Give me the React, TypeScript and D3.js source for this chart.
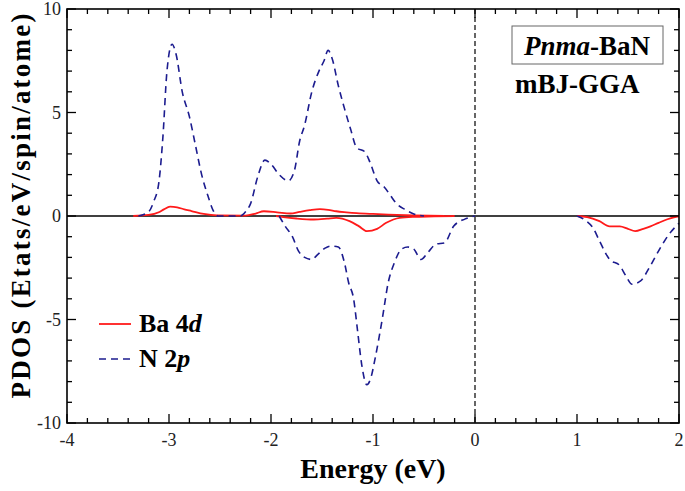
import React from 'react';
import * as d3 from 'd3';

// PDOS values (energy in eV, states/eV/spin/atom)
const n2pUpE = [-3.3, -3.2, -3.15, -3.1, -3.06, -3.02, -2.97, -2.93, -2.87, -2.8, -2.74, -2.68, -2.62, -2.57, -2.52, -2.3, -2.25, -2.2, -2.13, -2.06, -2.0, -1.92, -1.83, -1.77, -1.72, -1.67, -1.6, -1.53, -1.48, -1.44, -1.4, -1.34, -1.28, -1.22, -1.16, -1.08, -1.03, -0.96, -0.89, -0.83, -0.77, -0.68, -0.6, -0.5];
const n2pUpV = [0, 0.2, 0.7, 1.6, 3.8, 7.0, 8.3, 7.8, 6.0, 4.8, 3.4, 2.0, 1.0, 0.3, 0, 0, 0.2, 0.6, 1.9, 2.7, 2.5, 2.0, 1.7, 2.2, 3.6, 4.4, 6.0, 7.0, 7.5, 8.0, 7.6, 6.3, 5.2, 4.2, 3.3, 3.1, 2.6, 1.7, 1.4, 1.0, 0.6, 0.3, 0.1, 0];

const n2pDnE = [-1.92, -1.86, -1.79, -1.73, -1.67, -1.6, -1.54, -1.47, -1.41, -1.34, -1.28, -1.24, -1.19, -1.15, -1.11, -1.06, -1.02, -0.98, -0.91, -0.85, -0.79, -0.72, -0.66, -0.6, -0.53, -0.46, -0.38, -0.3, -0.21, -0.1, 0];
const n2pDnV = [0, -0.5, -1.0, -1.7, -2.0, -2.1, -1.85, -1.55, -1.45, -1.5, -2.25, -3.2, -4.0, -5.6, -7.2, -8.15, -7.8, -6.9, -5.0, -3.2, -2.25, -1.6, -1.5, -1.6, -2.1, -1.75, -1.35, -1.3, -0.5, -0.15, 0];

const n2pCbE = [1.0, 1.08, 1.16, 1.22, 1.32, 1.42, 1.48, 1.54, 1.62, 1.72, 1.81, 1.9, 2.0];
const n2pCbV = [0, -0.2, -0.6, -1.2, -2.1, -2.4, -2.9, -3.3, -3.15, -2.4, -1.6, -0.9, -0.35];

const ba4dUpE = [-3.35, -3.2, -3.1, -3.05, -2.99, -2.92, -2.85, -2.78, -2.66, -2.53, -2.25, -2.15, -2.07, -1.94, -1.81, -1.72, -1.62, -1.52, -1.44, -1.36, -1.26, -1.16, -1.0, -0.85, -0.6, -0.3];
const ba4dUpV = [0, 0.05, 0.18, 0.32, 0.45, 0.42, 0.32, 0.24, 0.1, 0.03, 0.02, 0.12, 0.23, 0.18, 0.12, 0.2, 0.28, 0.33, 0.3, 0.23, 0.18, 0.14, 0.1, 0.07, 0.03, 0];

const ba4dDnE = [-1.95, -1.88, -1.75, -1.58, -1.45, -1.36, -1.23, -1.14, -1.06, -0.96, -0.87, -0.74, -0.6, -0.4, -0.2];
const ba4dDnV = [0, -0.05, -0.12, -0.17, -0.13, -0.09, -0.25, -0.49, -0.73, -0.62, -0.33, -0.09, -0.04, -0.02, 0];

const ba4dCbE = [1.0, 1.1, 1.22, 1.32, 1.42, 1.5, 1.57, 1.65, 1.72, 1.8, 1.88, 1.95, 2.0];
const ba4dCbV = [0, -0.05, -0.25, -0.5, -0.5, -0.62, -0.73, -0.62, -0.5, -0.33, -0.17, -0.07, -0.02];

const xMajor = [-4, -3, -2, -1, 0, 1, 2];
const yMajor = [-10, -5, 0, 5, 10];

const W = 685;
const H = 491;
const m = { left: 67, right: 6, top: 9, bottom: 68 };

const font = '"Liberation Serif", Tinos, "Times New Roman", Times, "DejaVu Serif", serif';
const RED = '#ff1a1a';
const BLUE = '#1c1c8f';

const zip = (e: number[], v: number[]) => e.map((x, i) => [x, v[i]] as [number, number]);

export default function App() {
  const x = d3.scaleLinear().domain([-4, 2]).range([m.left, W - m.right]);
  const y = d3.scaleLinear().domain([-10, 10]).range([H - m.bottom, m.top]);
  const line = d3
    .line<[number, number]>()
    .x((d) => x(d[0]))
    .y((d) => y(d[1]))
    .curve(d3.curveMonotoneX);

  const xMinor = d3.range(-4, 2.001, 0.2).map((v) => +v.toFixed(2));
  const yMinor = d3.range(-10, 10.001, 1);
  const x0 = x(-4), x1 = x(2), y0 = y(-10), y1 = y(10);

  const blue = [zip(n2pUpE, n2pUpV), zip(n2pDnE, n2pDnV), zip(n2pCbE, n2pCbV)];
  const red = [zip(ba4dUpE, ba4dUpV), zip(ba4dDnE, ba4dDnV), zip(ba4dCbE, ba4dCbV)];

  return (
    <svg width={W} height={H} style={{ position: 'absolute', left: 0, top: 0, background: '#fff' }}>
      <g style={{ fontFamily: font }}>
      {/* zero line and Fermi level */}
      <line x1={x0} x2={x1} y1={y(0)} y2={y(0)} stroke="#000" strokeWidth={1.6} />
      <line x1={x(0)} x2={x(0)} y1={y1} y2={y0} stroke="#000" strokeWidth={1.2} strokeDasharray="5,3" />

      {red.map((d, i) => (
        <path key={'r' + i} d={line(d) || ''} fill="none" stroke={RED} strokeWidth={1.8} />
      ))}
      {blue.map((d, i) => (
        <path key={'b' + i} d={line(d) || ''} fill="none" stroke={BLUE} strokeWidth={1.6} strokeDasharray="7,5" />
      ))}

      {/* frame */}
      <rect x={x0} y={y1} width={x1 - x0} height={y0 - y1} fill="none" stroke="#000" strokeWidth={1.6} />

      {/* ticks point inward on all four sides */}
      {xMinor.map((v) => {
        const major = Math.abs(v - Math.round(v)) < 1e-6;
        const len = major ? 9 : 5;
        return (
          <g key={'xt' + v}>
            <line x1={x(v)} x2={x(v)} y1={y0} y2={y0 - len} stroke="#000" strokeWidth={1.3} />
            <line x1={x(v)} x2={x(v)} y1={y1} y2={y1 + len} stroke="#000" strokeWidth={1.3} />
          </g>
        );
      })}
      {yMinor.map((v) => {
        const major = yMajor.includes(v);
        const len = major ? 9 : 5;
        return (
          <g key={'yt' + v}>
            <line x1={x0} x2={x0 + len} y1={y(v)} y2={y(v)} stroke="#000" strokeWidth={1.3} />
            <line x1={x1} x2={x1 - len} y1={y(v)} y2={y(v)} stroke="#000" strokeWidth={1.3} />
          </g>
        );
      })}

      {xMajor.map((v) => (
        <text key={'xl' + v} x={x(v)} y={y0 + 23} fontSize={18} textAnchor="middle" fill="#222">
          {v}
        </text>
      ))}
      {yMajor.map((v) => (
        <text key={'yl' + v} x={x0 - 6} y={y(v) + 6} fontSize={18} textAnchor="end" fill="#222">
          {v}
        </text>
      ))}

      <text x={(x0 + x1) / 2} y={478} fontSize={28} fontWeight="bold" textAnchor="middle">
        Energy (eV)
      </text>
      <text
        transform={`translate(30,206) rotate(-90)`}
        fontSize={27}
        fontWeight="bold"
        textAnchor="middle"
        textLength={385}
        lengthAdjust="spacing"
      >
        PDOS (Etats/eV/spin/atome)
      </text>

      {/* legend */}
      <line x1={99} x2={131} y1={324} y2={324} stroke={RED} strokeWidth={1.8} />
      <text x={139} y={332} fontSize={26} fontWeight="bold">
        Ba 4<tspan fontStyle="italic">d</tspan>
      </text>
      <line x1={99} x2={131} y1={359} y2={359} stroke={BLUE} strokeWidth={1.6} strokeDasharray="7,5" />
      <text x={139} y={367} fontSize={26} fontWeight="bold">
        N 2<tspan fontStyle="italic">p</tspan>
      </text>

      {/* label box */}
      <rect x={512} y={26} width={151} height={38} fill="none" stroke="#666" strokeWidth={1} />
      <text x={587} y={55} fontSize={27} fontWeight="bold" textAnchor="middle">
        <tspan fontStyle="italic">Pnma</tspan>-BaN
      </text>
      <text x={515} y={93} fontSize={27} fontWeight="bold">
        mBJ-GGA
      </text>
      </g>
    </svg>
  );
}
